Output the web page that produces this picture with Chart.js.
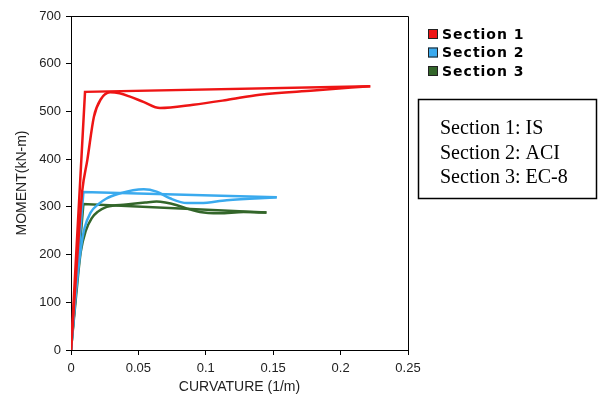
<!DOCTYPE html>
<html>
<head>
<meta charset="utf-8">
<script src="https://cdn.jsdelivr.net/npm/chart.js@4"></script>
<style>
  html, body { margin: 0; padding: 0; background: #fff; }
  #wrap { width: 603px; height: 400px; }
</style>
</head>
<body>
<div id="wrap"><canvas id="momentChart"></canvas></div>
<script>
// Section 1 (IS)
const s1BiX = [0, 0.0104, 0.222];
const s1BiY = [0, 541, 553];
const s1X = [0, 0.006, 0.0084, 0.0121, 0.017, 0.022, 0.029, 0.036, 0.0438, 0.0537, 0.066, 0.0907, 0.1155, 0.14, 0.18, 0.222];
const s1Y = [0, 250, 335, 398, 489, 525, 540, 538, 531, 520, 507, 514, 524, 535, 544, 553];

// Section 2 (ACI)
const s2BiX = [0, 0.0092, 0.1526];
const s2BiY = [0, 331, 320];
const s2X = [0, 0.004, 0.0072, 0.01, 0.0145, 0.02, 0.026, 0.036, 0.046, 0.054, 0.0635, 0.0734, 0.086, 0.096, 0.1155, 0.1526];
const s2Y = [0, 130, 210, 255, 288, 305, 317, 328, 335, 337, 332, 318, 308, 308, 314, 320];

// Section 3 (EC-8)
const s3BiX = [0, 0.0092, 0.145];
const s3BiY = [0, 306, 288];
const s3X = [0, 0.004, 0.0072, 0.011, 0.0153, 0.02, 0.0265, 0.041, 0.055, 0.0635, 0.07, 0.078, 0.088, 0.0957, 0.11, 0.128, 0.145];
const s3Y = [0, 120, 205, 250, 276, 290, 300, 305, 309, 311, 309, 304, 295, 289, 286.5, 289, 288];

const xTicks = [0, 0.05, 0.1, 0.15, 0.2, 0.25];
const yTicks = [0, 100, 200, 300, 400, 500, 600, 700];
const sectionNames = ["Section 1", "Section 2", "Section 3"];
const codeNotes = ["Section 1: IS", "Section 2: ACI", "Section 3: EC-8"];
const colors = ["#ee1515", "#3aaaee", "#33662a"];

function pts(xs, ys) {
    return xs.map((x, i) => ({ x: x, y: ys[i] }));
}

function line(label, xs, ys, color, smooth, inLegend) {
    return {
        label: label,
        data: pts(xs, ys),
        borderColor: color,
        backgroundColor: color,
        borderWidth: 2.5,
        pointRadius: 0,
        showLine: true,
        fill: false,
        tension: smooth ? 0.4 : 0,
        cubicInterpolationMode: smooth ? "monotone" : "default",
        inLegend: inLegend,
    };
}

// frame, legend and note box
const extras = {
    id: "extras",
    afterDraw(chart) {
        const ctx = chart.ctx;
        const a = chart.chartArea;
        ctx.save();
        ctx.strokeStyle = "#000";
        ctx.lineWidth = 1;
        ctx.beginPath();
        ctx.moveTo(a.left, a.top + 0.5);
        ctx.lineTo(a.right + 0.5, a.top + 0.5);
        ctx.lineTo(a.right + 0.5, a.bottom + 5);
        ctx.stroke();

        // legend
        let row = 0;
        chart.data.datasets.forEach((ds) => {
            if (!ds.inLegend) return;
            const y = 34 + row * 18.5;
            ctx.fillStyle = ds.borderColor;
            ctx.fillRect(428, y - 5, 10, 10);
            ctx.strokeStyle = "#222";
            ctx.lineWidth = 1;
            ctx.strokeRect(428.5, y - 4.5, 9, 9);
            ctx.fillStyle = "#000";
            ctx.font = "bold 14px 'DejaVu Sans', Verdana, sans-serif";
            ctx.letterSpacing = "1px";
            ctx.textBaseline = "middle";
            ctx.textAlign = "left";
            ctx.fillText(ds.label, 442, y + 1);
            ctx.letterSpacing = "0px";
            row++;
        });

        // note box
        ctx.strokeStyle = "#000";
        ctx.lineWidth = 1.5;
        ctx.strokeRect(418.5, 99.5, 178, 99);
        ctx.fillStyle = "#000";
        ctx.font = "20px 'Liberation Serif', 'DejaVu Serif', serif";
        ctx.textBaseline = "middle";
        codeNotes.forEach((t, i) => ctx.fillText(t, 440, 129 + i * 24.5));
        ctx.restore();
    },
};

const datasets = [
    line(sectionNames[0], s1BiX, s1BiY, colors[0], false, true),
    line(sectionNames[0] + " (actual)", s1X, s1Y, colors[0], true, false),
    line(sectionNames[1], s2BiX, s2BiY, colors[1], false, true),
    line(sectionNames[1] + " (actual)", s2X, s2Y, colors[1], true, false),
    line(sectionNames[2], s3BiX, s3BiY, colors[2], false, true),
    line(sectionNames[2] + " (actual)", s3X, s3Y, colors[2], true, false),
];

new Chart(document.getElementById("momentChart"), {
    type: "scatter",
    data: { datasets: datasets },
    plugins: [extras],
    options: {
        responsive: true,
        maintainAspectRatio: false,
        animation: false,
        layout: { padding: { left: 4, right: 195, top: 16, bottom: 0 } },
        plugins: {
            legend: { display: false },
            tooltip: { enabled: false },
        },
        scales: {
            x: {
                type: "linear",
                min: 0,
                max: 0.25,
                afterBuildTicks: (scale) => { scale.ticks = xTicks.map((v) => ({ value: v })); },
                afterFit: (scale) => { scale.height = 50; },
                border: { color: "#000", width: 1 },
                grid: { drawOnChartArea: false, color: "#000", tickLength: 5 },
                ticks: {
                    color: "#222",
                    padding: 6,
                    font: { family: "'Liberation Sans', Arial, sans-serif", size: 13 },
                    callback: (v) => String(v),
                },
                title: {
                    display: true,
                    text: "CURVATURE (1/m)",
                    color: "#222",
                    padding: { top: 3, bottom: 4 },
                    font: { family: "'Liberation Sans', Arial, sans-serif", size: 14 },
                },
            },
            y: {
                min: 0,
                max: 700,
                afterBuildTicks: (scale) => { scale.ticks = yTicks.map((v) => ({ value: v })); },
                afterFit: (scale) => { scale.width = 67; },
                border: { color: "#000", width: 1 },
                grid: { drawOnChartArea: false, color: "#000", tickLength: 5 },
                ticks: {
                    color: "#222",
                    padding: 5,
                    font: { family: "'Liberation Sans', Arial, sans-serif", size: 13 },
                },
                title: {
                    display: true,
                    text: "MOMENT(kN-m)",
                    color: "#222",
                    padding: { top: 10, bottom: 4 },
                    font: { family: "'Liberation Sans', Arial, sans-serif", size: 14 },
                },
            },
        },
    },
});
</script>
</body>
</html>
